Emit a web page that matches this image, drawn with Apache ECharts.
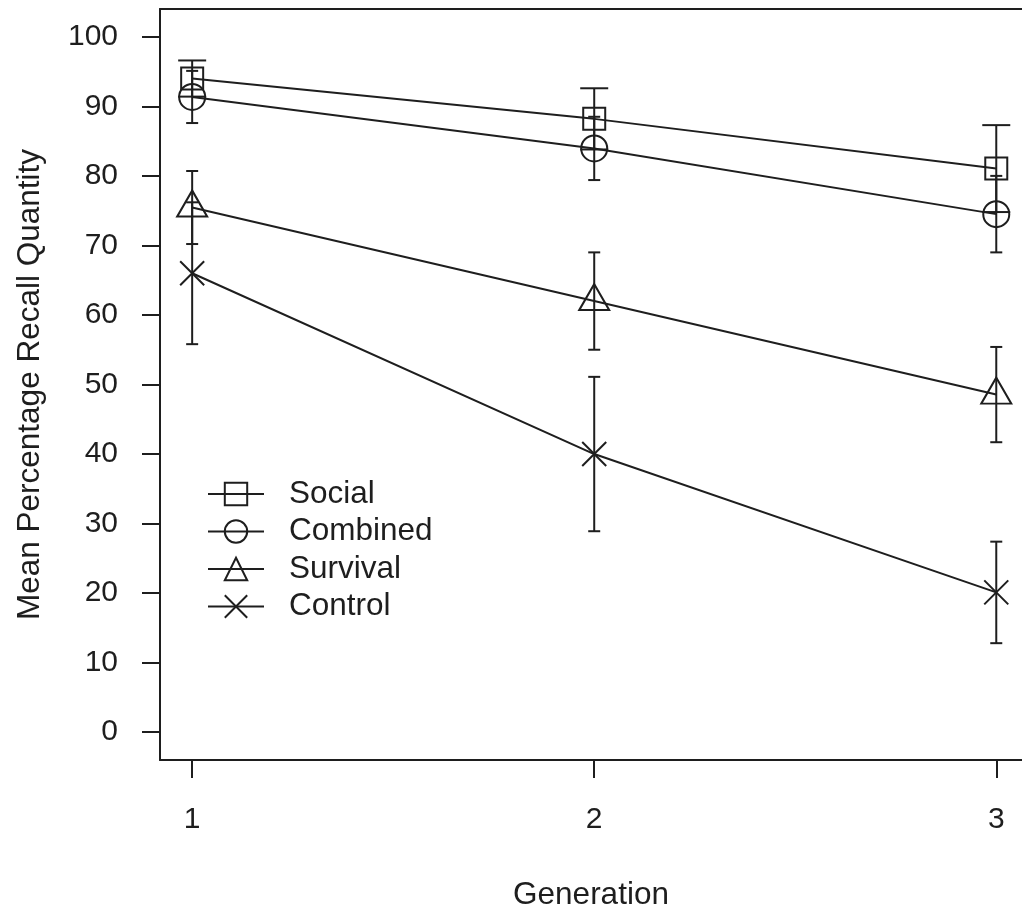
<!DOCTYPE html>
<html>
<head>
<meta charset="utf-8">
<script src="https://cdn.jsdelivr.net/npm/echarts@6/dist/echarts.min.js"></script>
<style>
html,body{margin:0;padding:0;background:#fff;}
#chart{width:1022px;height:912px;}
</style>
</head>
<body>
<div id="chart"></div>
<script>
// ---- data ----
const generations = [1, 2, 3];
const xTickLabels = ['1', '2', '3'];
const yTickValues = [0, 10, 20, 30, 40, 50, 60, 70, 80, 90, 100];
const yTickLabels = ['0', '10', '20', '30', '40', '50', '60', '70', '80', '90', '100'];

const seriesNames = ['Social', 'Combined', 'Survival', 'Control'];
const socialMean = [94.0, 88.2, 81.05];
const socialErr = [2.6, 4.4, 6.25];
const combinedMean = [91.35, 83.95, 74.5];
const combinedErr = [3.75, 4.55, 5.5];
const survivalMean = [75.45, 62.0, 48.55];
const survivalErr = [5.25, 7.0, 6.85];
const controlMean = [66.0, 40.0, 20.1];
const controlErr = [10.2, 11.1, 7.3];

// ---- styles ----
const INK = '#1e1e1e';
const FONT = '"Liberation Sans", Arial, sans-serif';
const means = [socialMean, combinedMean, survivalMean, controlMean];
const errs = [socialErr, combinedErr, survivalErr, controlErr];
const symbols = ['rect', 'circle', 'triangle', 'path://M0,0L10,10M10,0L0,10'];
const symbolSizes = [[22, 22], [26, 26], [30, 26], [24, 24]];
const symbolOffsets = [[0, 0], [0, 0], [0, -4], [0, 0]];
const capHalf = [14, 6, 6, 6];

const chart = echarts.init(document.getElementById('chart'), null, {renderer: 'canvas'});

const series = [];
seriesNames.forEach((name, i) => {
  series.push({
    name: name,
    type: 'line',
    xAxisIndex: 0,
    data: generations.map((g, k) => [g, means[i][k]]),
    symbol: symbols[i],
    symbolSize: symbolSizes[i],
    symbolOffset: symbolOffsets[i],
    showAllSymbol: true,
    lineStyle: {color: INK, width: 2},
    itemStyle: {color: 'rgba(255,255,255,0)', borderColor: INK, borderWidth: 2},
    emphasis: {disabled: true},
    animation: false,
    z: 3
  });
  series.push({
    name: name + ' err',
    type: 'custom',
    xAxisIndex: 0,
    data: generations.map((g, k) => [g, means[i][k] - errs[i][k], means[i][k] + errs[i][k]]),
    renderItem: function (params, api) {
      const x = api.value(0);
      const lo = api.coord([x, api.value(1)]);
      const hi = api.coord([x, api.value(2)]);
      const h = capHalf[i];
      const st = {stroke: INK, lineWidth: 2, fill: null};
      return {
        type: 'group',
        children: [
          {type: 'line', shape: {x1: lo[0], y1: lo[1], x2: hi[0], y2: hi[1]}, style: st},
          {type: 'line', shape: {x1: lo[0] - h, y1: lo[1], x2: lo[0] + h, y2: lo[1]}, style: st},
          {type: 'line', shape: {x1: hi[0] - h, y1: hi[1], x2: hi[0] + h, y2: hi[1]}, style: st}
        ]
      };
    },
    silent: true,
    animation: false,
    z: 2
  });
});

const TITLE_SIZE = 31.5;

chart.setOption({
  backgroundColor: '#ffffff',
  animation: false,
  grid: {left: 160, top: 9, right: 0, bottom: 152, show: false, containLabel: false, outerBoundsMode: 'none'},
  legend: {
    data: seriesNames,
    orient: 'vertical',
    left: 202,
    top: 473,
    itemWidth: 56,
    itemHeight: 28,
    itemGap: 5.5,
    selectedMode: false,
    textStyle: {color: INK, fontSize: TITLE_SIZE, fontFamily: FONT, lineHeight: 28, padding: [0, 0, 0, 20]}
  },
  xAxis: [{
    type: 'value',
    position: 'bottom',
    min: 0.92,
    max: 3.064,
    name: 'Generation',
    nameLocation: 'middle',
    nameGap: 119,
    nameTextStyle: {color: INK, fontSize: TITLE_SIZE, fontFamily: FONT},
    axisLine: {show: true, onZero: false, lineStyle: {color: INK, width: 2}},
    splitLine: {show: false},
    axisTick: {show: true, inside: false, length: 18, lineStyle: {color: INK, width: 2}, customValues: generations},
    axisLabel: {
      show: true, margin: 45, color: INK, fontSize: 30, fontFamily: FONT,
      customValues: generations,
      formatter: function (v) { return xTickLabels[generations.indexOf(Math.round(v))] || ''; }
    }
  }, {
    type: 'value',
    position: 'top',
    min: 0.92,
    max: 3.064,
    axisLine: {show: true, onZero: false, lineStyle: {color: INK, width: 2}},
    splitLine: {show: false},
    axisTick: {show: false},
    axisLabel: {show: false}
  }],
  yAxis: {
    type: 'value',
    min: -4,
    max: 104,
    name: 'Mean Percentage Recall Quantity',
    nameLocation: 'middle',
    nameGap: 114,
    nameTextStyle: {color: INK, fontSize: TITLE_SIZE, fontFamily: FONT},
    axisLine: {show: true, onZero: false, lineStyle: {color: INK, width: 2}},
    splitLine: {show: false},
    axisTick: {show: true, inside: false, length: 18, lineStyle: {color: INK, width: 2}, customValues: yTickValues},
    axisLabel: {
      show: true, margin: 42, color: INK, fontSize: 30, fontFamily: FONT,
      customValues: yTickValues,
      formatter: function (v) { const k = yTickValues.indexOf(Math.round(v)); return k >= 0 ? yTickLabels[k] : ''; }
    }
  },
  series: series
});
</script>
</body>
</html>
